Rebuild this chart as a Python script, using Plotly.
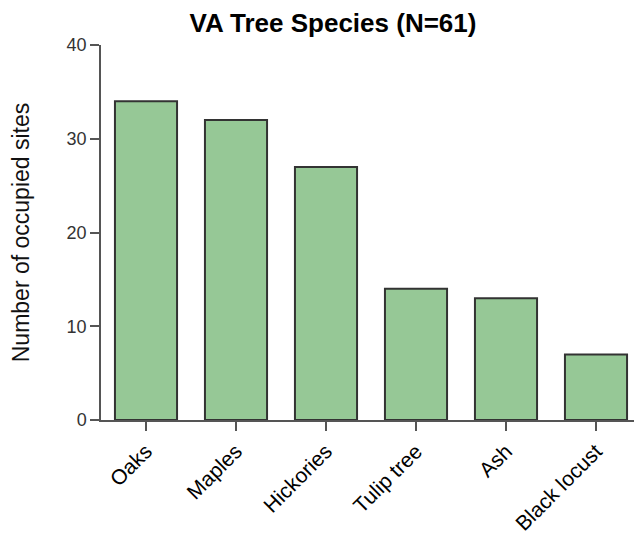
import plotly.graph_objects as go

categories = ["Oaks", "Maples", "Hickories", "Tulip tree", "Ash", "Black locust"]
occupied_sites = [34, 32, 27, 14, 13, 7]
y_ticks = [0, 10, 20, 30, 40]

FONT = "Liberation Sans, Arial, Helvetica, sans-serif"

W, H = 634, 536  # page body has an 8px margin

fig = go.Figure(
    go.Bar(
        x=categories,
        y=occupied_sites,
        marker=dict(color="#96c896", line=dict(color="#333333", width=2)),
    )
)

fig.update_layout(
    width=W,
    height=H,
    margin=dict(l=93, r=1, t=37, b=124, autoexpand=False),
    plot_bgcolor="white",
    paper_bgcolor="white",
    bargap=0.31,
    showlegend=False,
    font=dict(family=FONT, color="#111111"),
    title=dict(
        text="<b>VA Tree Species (N=61)</b>",
        x=325 / W,
        xanchor="center",
        xref="container",
        y=1 - 15 / H,
        yref="container",
        yanchor="middle",
        font=dict(family=FONT, size=26, color="#000000"),
        automargin=False,
    ),
)

fig.update_xaxes(
    range=[-0.5, 5.5],
    automargin=False,
    showline=True,
    linecolor="#555555",
    linewidth=1.5,
    ticks="outside",
    ticklen=9,
    tickwidth=1.5,
    tickcolor="#555555",
    tickangle=-45,
    tickfont=dict(family=FONT, size=21, color="#000000"),
    showgrid=False,
    zeroline=False,
)

fig.update_yaxes(
    range=[0, 40],
    automargin=False,
    tickvals=y_ticks,
    showline=True,
    linecolor="#555555",
    linewidth=1.5,
    ticks="outside",
    ticklen=9,
    tickwidth=1.5,
    tickcolor="#555555",
    tickfont=dict(family=FONT, size=18, color="#333333"),
    showgrid=False,
    zeroline=False,
    title=dict(
        text="Number of occupied sites",
        font=dict(family=FONT, size=23, color="#111111"),
        standoff=34,
    ),
)

fig.write_html("out.html")
